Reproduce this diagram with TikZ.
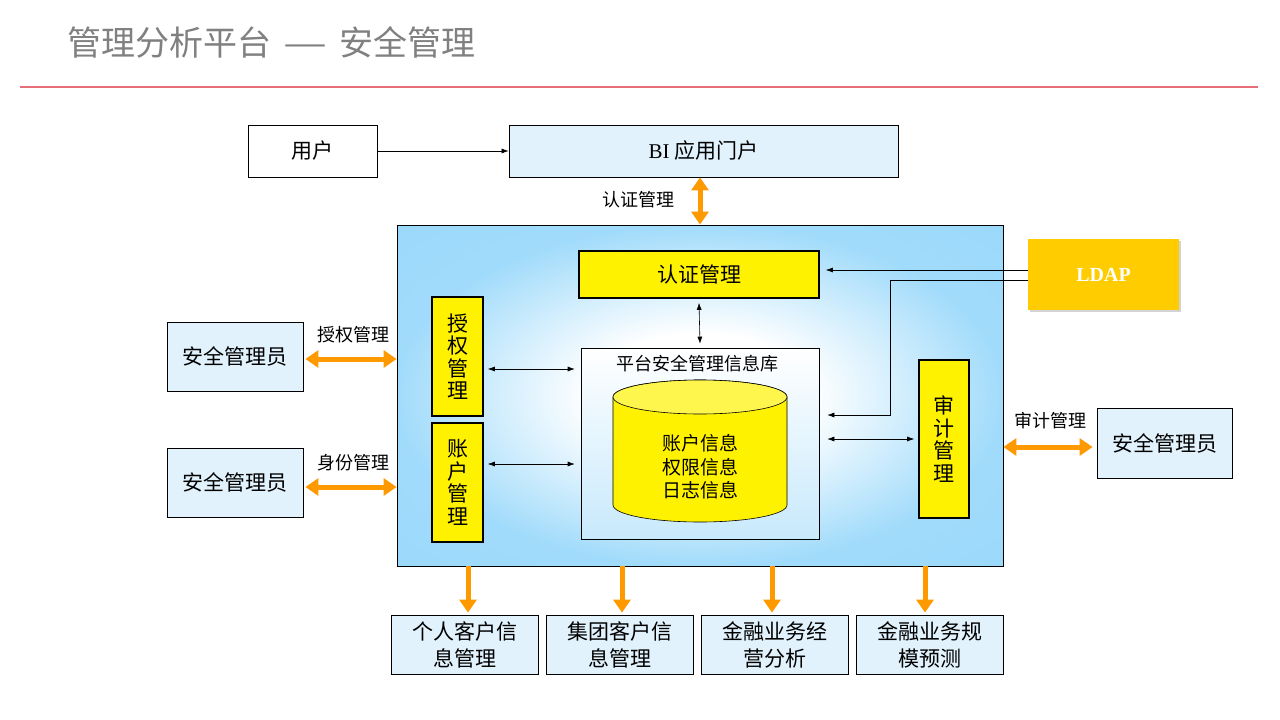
\documentclass[tikz,border=0pt]{standalone}
\usepackage{fontspec}
\setmainfont{Noto Sans CJK SC}
\newfontfamily\latinserif{Liberation Serif}
\usetikzlibrary{arrows.meta,shadows}

\definecolor{paleblue}{RGB}{225,242,252}
\definecolor{coreblue}{RGB}{145,213,250}
\definecolor{dbblue}{RGB}{200,233,252}
\definecolor{arroworange}{RGB}{255,153,0}
\definecolor{ldapgold}{RGB}{255,204,0}
\definecolor{titlegray}{RGB}{128,128,128}
\definecolor{rulered}{RGB}{230,110,120}

\newcommand{\fsize}[2]{\fontsize{#1pt}{#2pt}\selectfont}

% Platform background: white centre, blue rim.
\pgfdeclareradialshading{coreshade}{\pgfpoint{0bp}{0bp}}{%
  color(0bp)=(white); color(9bp)=(white); color(25bp)=(coreblue!85!white); color(50bp)=(coreblue)}

\begin{document}
\begin{tikzpicture}[
  x=1pt,
  y=-1pt,
  every node/.style={inner sep=0pt, text=black},
  plainbox/.style={draw, line width=0.8pt, fill=white, font=\fsize{21}{26}},
  bluebox/.style={draw, line width=0.8pt, fill=paleblue, align=center, font=\fsize{21}{27}},
  yellowbox/.style={draw, line width=1.6pt, fill=yellow, align=center, font=\fsize{21}{22.5}},
  label/.style={font=\fsize{18}{22}},
  thinarrow/.style={-{Latex[length=7pt,width=5pt]}, line width=0.6pt},
  thinboth/.style={{Latex[length=7pt,width=5pt]}-{Latex[length=7pt,width=5pt]}, line width=0.6pt},
  orangearrow/.style={arroworange, line width=5pt, -{Triangle[length=13pt,width=17pt]}},
  orangeboth/.style={arroworange, line width=5pt, {Triangle[length=13pt,width=17pt]}-{Triangle[length=13pt,width=17pt]}}
]
  \useasboundingbox (0,0) rectangle (1280,720);

  % Title and rule.
  \node[anchor=west, text=titlegray, font=\fsize{34}{38}] (title) at (67,42)
    {管理分析平台\makebox[68pt]{\scalebox{1.45}[1]{—}}安全管理};
  \draw[rulered, line width=1.5pt] (20,87) -- (1258,87);

  % Top row.
  \node[plainbox, minimum width=129pt, minimum height=52pt] (user) at (312.5,151) {用户};
  \node[bluebox, minimum width=389pt, minimum height=52pt] (portal) at (703.5,151) {{\latinserif BI}\ 应用门户};
  \draw[thinarrow] (user) -- (portal);

  % Platform box.
  \node[draw, line width=0.8pt, shading=coreshade,
        minimum width=606pt, minimum height=341pt] (core) at (700,395.5) {};
  \draw[orangeboth] (core.north |- portal.south) -- (core.north);
  \node[label] (certlabel) at (638,200) {认证管理};

  % Security database.
  \node[draw, line width=0.6pt, top color=white, bottom color=dbblue,
        minimum width=238pt, minimum height=191pt] (db) at (700,443.5) {};
  \node[label] (dblabel) at (697,364) {平台安全管理信息库};
  \draw[line width=0.6pt, fill=yellow] (613,397) -- (613,505)
    arc[start angle=180, end angle=0, x radius=87, y radius=17] -- (787,397)
    arc[start angle=0, end angle=-180, x radius=87, y radius=17] -- cycle;
  \draw[line width=0.6pt, fill=yellow!70!white] (700,397) ellipse[x radius=87, y radius=17];
  \node[align=center, font=\fsize{19}{23.5}] (dbinfo) at (700,467) {账户信息\\权限信息\\日志信息};

  % Management modules.
  \node[yellowbox, minimum width=240pt, minimum height=47pt] (cert) at (699,274.5) {认证管理};
  \node[yellowbox, minimum width=51pt, minimum height=119pt] (auth) at (457.5,356.5) {授\\权\\管\\理};
  \node[yellowbox, minimum width=51pt, minimum height=119pt] (account) at (457.5,482.5) {账\\户\\管\\理};
  \node[yellowbox, minimum width=50pt, minimum height=158pt] (audit) at (944,439) {审\\计\\管\\理};

  \draw[thinboth] ([shift={(0,4)}]cert.south) -- ([shift={(0,-4)}]db.north);
  \draw[thinboth] ([shift={(4,12.5)}]auth.east) -- ([shift={(-6,12.5)}]auth.east -| db.west);
  \draw[thinboth] ([shift={(4,-18.5)}]account.east) -- ([shift={(-6,-18.5)}]account.east -| db.west);
  \draw[thinboth] ([shift={(-4,0)}]audit.west) -- ([shift={(8,0)}]audit.west -| db.east);

  % LDAP.
  \node[fill=ldapgold, text=white, font=\latinserif\bfseries\fsize{20}{24},
        drop shadow={opacity=0.35, shadow xshift=2pt, shadow yshift=-2pt},
        minimum width=151pt, minimum height=71pt] (ldap) at (1103.5,274.5) {LDAP};
  \coordinate (bend) at (890,415);
  \draw[thinarrow] ([shift={(0,-4.5)}]ldap.west) -- ([shift={(6,-4.5)}]ldap.west -| cert.east);
  \draw[thinarrow] ([shift={(0,5.5)}]ldap.west) -| (bend) -- ([shift={(8,0)}]bend -| db.east);

  % Security administrators.
  \node[bluebox, minimum width=136pt, minimum height=69pt] (admin1) at (235,356.5) {安全管理员};
  \node[bluebox, minimum width=136pt, minimum height=69pt] (admin2) at (235,482.5) {安全管理员};
  \node[bluebox, minimum width=135pt, minimum height=70pt] (admin3) at (1164.5,443) {安全管理员};
  \draw[orangeboth] ([shift={(2,2.5)}]admin1.east) -- ([shift={(0,2.5)}]admin1.east -| core.west);
  \draw[orangeboth] ([shift={(2,4.5)}]admin2.east) -- ([shift={(0,4.5)}]admin2.east -| core.west);
  \draw[orangeboth] ([shift={(0,4)}]admin3.west -| core.east) -- ([shift={(-4,4)}]admin3.west);
  \node[label] (authlabel) at (353,335) {授权管理};
  \node[label] (idlabel) at (353,463) {身份管理};
  \node[label] (auditlabel) at (1050,421) {审计管理};

  % Output applications.
  \node[bluebox, minimum width=147pt, minimum height=59pt] (out1) at (464.5,644.5) {个人客户信\\息管理};
  \node[bluebox, minimum width=147pt, minimum height=59pt] (out2) at (619.5,644.5) {集团客户信\\息管理};
  \node[bluebox, minimum width=147pt, minimum height=59pt] (out3) at (774.5,644.5) {金融业务经\\营分析};
  \node[bluebox, minimum width=147pt, minimum height=59pt] (out4) at (929.5,644.5) {金融业务规\\模预测};
  \foreach \out/\dx in {out1/3.5,out2/2.5,out3/-2.5,out4/-4.5} {
    \draw[orangearrow] ([shift={(\dx,0)}]\out.north |- core.south) -- ([shift={(\dx,-2)}]\out.north);
  }
\end{tikzpicture}
\end{document}
